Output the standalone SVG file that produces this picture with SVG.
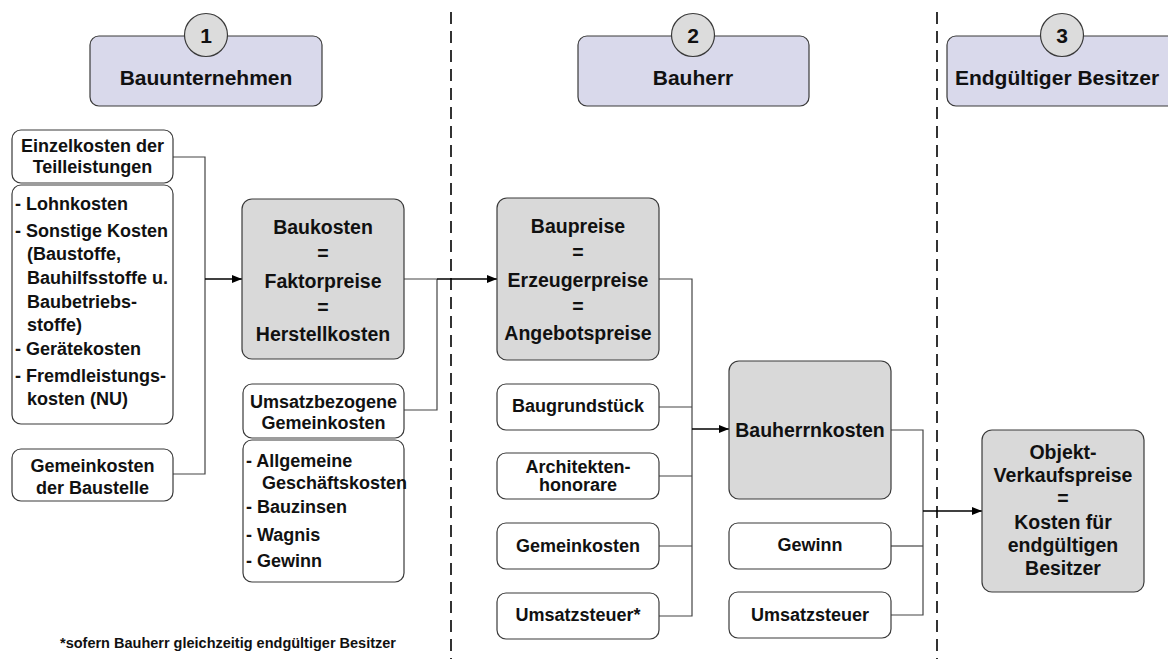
<svg xmlns="http://www.w3.org/2000/svg" width="1168" height="659" viewBox="0 0 1168 659">
  <style>
    text { font-family: "Liberation Sans", Arial, sans-serif; font-weight: bold; fill: #111; }
    .c { text-anchor: middle; }
    .hdr { fill: #d9d9eb; stroke: #3a3a3a; stroke-width: 1.2; }
    .num { fill: #dcdcdc; stroke: #3a3a3a; stroke-width: 1.2; }
    .big { fill: #d9d9d9; stroke: #3a3a3a; stroke-width: 1.2; }
    .box { fill: #ffffff; stroke: #3a3a3a; stroke-width: 1.2; }
    .t21 { font-size: 21px; }
    .t19 { font-size: 19.5px; }
    .t18 { font-size: 18px; }
    .line { fill: none; stroke: #444; stroke-width: 1.2; }
    .arrow { fill: none; stroke: #000; stroke-width: 1.4; marker-end: url(#tip); }
    .sep { stroke: #000; stroke-width: 1.6; stroke-dasharray: 12 7; }
  </style>
  <defs>
    <marker id="tip" markerWidth="10" markerHeight="8" refX="10" refY="4" orient="auto" markerUnits="userSpaceOnUse">
      <path d="M0,0 L10,4 L0,8 Z" fill="#000"/>
    </marker>
  </defs>

  <rect width="1168" height="659" fill="#ffffff"/>

  <!-- phase separators -->
  <g id="separators">
    <line class="sep" x1="451" y1="12" x2="451" y2="659"/>
    <line class="sep" x1="937" y1="12" x2="937" y2="659"/>
  </g>

  <!-- phase headers -->
  <g id="header-1">
    <rect class="hdr" x="90" y="36" width="232" height="70" rx="9"/>
    <circle class="num" cx="206" cy="35" r="21.5"/>
    <text class="c t21" x="206" y="43">1</text>
    <text class="c t21" x="206" y="85">Bauunternehmen</text>
  </g>
  <g id="header-2">
    <rect class="hdr" x="578" y="36" width="231" height="70" rx="9"/>
    <circle class="num" cx="693" cy="35" r="21.5"/>
    <text class="c t21" x="693" y="43">2</text>
    <text class="c t21" x="693" y="85">Bauherr</text>
  </g>
  <g id="header-3">
    <rect class="hdr" x="947" y="36" width="232" height="70" rx="9"/>
    <circle class="num" cx="1062" cy="35" r="21.5"/>
    <text class="c t21" x="1062" y="43">3</text>
    <text class="c t21" x="1057" y="85">Endgültiger Besitzer</text>
  </g>

  <!-- connectors -->
  <g id="connectors">
    <polyline class="line" points="173,157 205,157 205,474 173,474"/>
    <line class="arrow" x1="205" y1="279" x2="242" y2="279"/>
    <polyline class="line" points="404,279 437,279"/>
    <polyline class="line" points="404,410 437,410 437,279"/>
    <line class="arrow" x1="437" y1="279" x2="497" y2="279"/>
    <polyline class="line" points="659,279 692,279 692,616 659,616"/>
    <line class="line" x1="659" y1="407" x2="692" y2="407"/>
    <line class="line" x1="659" y1="476" x2="692" y2="476"/>
    <line class="line" x1="659" y1="546" x2="692" y2="546"/>
    <line class="arrow" x1="692" y1="429" x2="729" y2="429"/>
    <polyline class="line" points="891,430 923,430 923,615 891,615"/>
    <line class="line" x1="891" y1="546" x2="923" y2="546"/>
    <line class="arrow" x1="923" y1="511" x2="982" y2="511"/>
  </g>

  <!-- Bauunternehmen column -->
  <g id="einzelkosten">
    <rect class="box" x="12" y="130" width="161" height="53" rx="9"/>
    <text class="c t18" x="92.5" y="152">Einzelkosten der</text>
    <text class="c t18" x="92.5" y="173">Teilleistungen</text>
  </g>
  <g id="einzelkosten-liste">
    <rect class="box" x="12" y="185" width="161" height="239" rx="9"/>
    <text class="t18" x="15" y="210">- Lohnkosten</text>
    <text class="t18" x="15" y="237">- Sonstige Kosten</text>
    <text class="t18" x="27" y="260">(Baustoffe,</text>
    <text class="t18" x="27" y="284">Bauhilfsstoffe u.</text>
    <text class="t18" x="27" y="308">Baubetriebs-</text>
    <text class="t18" x="27" y="331">stoffe)</text>
    <text class="t18" x="15" y="355">- Gerätekosten</text>
    <text class="t18" x="15" y="382">- Fremdleistungs-</text>
    <text class="t18" x="27" y="405">kosten (NU)</text>
  </g>
  <g id="gemeinkosten-baustelle">
    <rect class="box" x="12" y="449" width="161" height="52" rx="9"/>
    <text class="c t18" x="92.5" y="472">Gemeinkosten</text>
    <text class="c t18" x="92.5" y="494">der Baustelle</text>
  </g>

  <g id="baukosten">
    <rect class="big" x="242" y="199" width="162" height="160" rx="10"/>
    <text class="c t19" x="323" y="234">Baukosten</text>
    <text class="c t19" x="323" y="260">=</text>
    <text class="c t19" x="323" y="288">Faktorpreise</text>
    <text class="c t19" x="323" y="314">=</text>
    <text class="c t19" x="323" y="341">Herstellkosten</text>
  </g>
  <g id="umsatzbezogene-gemeinkosten">
    <rect class="box" x="243" y="384" width="161" height="54" rx="9"/>
    <text class="c t18" x="323.5" y="408">Umsatzbezogene</text>
    <text class="c t18" x="323.5" y="429">Gemeinkosten</text>
  </g>
  <g id="gemeinkosten-liste">
    <rect class="box" x="243" y="440" width="161" height="142" rx="9"/>
    <text class="t18" x="246" y="467">- Allgemeine</text>
    <text class="t18" x="262" y="489">Geschäftskosten</text>
    <text class="t18" x="246" y="513">- Bauzinsen</text>
    <text class="t18" x="246" y="541">- Wagnis</text>
    <text class="t18" x="246" y="567">- Gewinn</text>
  </g>

  <!-- Bauherr column -->
  <g id="baupreise">
    <rect class="big" x="497" y="198" width="162" height="162" rx="10"/>
    <text class="c t19" x="578" y="233">Baupreise</text>
    <text class="c t19" x="578" y="259">=</text>
    <text class="c t19" x="578" y="287">Erzeugerpreise</text>
    <text class="c t19" x="578" y="313">=</text>
    <text class="c t19" x="578" y="340">Angebotspreise</text>
  </g>
  <g id="baugrundstueck">
    <rect class="box" x="497" y="384" width="162" height="46" rx="9"/>
    <text class="c t18" x="578" y="412">Baugrundstück</text>
  </g>
  <g id="architektenhonorare">
    <rect class="box" x="497" y="453" width="162" height="46" rx="9"/>
    <text class="c t18" x="578" y="473">Architekten-</text>
    <text class="c t18" x="578" y="491">honorare</text>
  </g>
  <g id="gemeinkosten">
    <rect class="box" x="497" y="523" width="162" height="46" rx="9"/>
    <text class="c t18" x="578" y="552">Gemeinkosten</text>
  </g>
  <g id="umsatzsteuer-bauherr">
    <rect class="box" x="497" y="593" width="162" height="46" rx="9"/>
    <text class="c t18" x="578" y="621">Umsatzsteuer*</text>
  </g>

  <g id="bauherrnkosten">
    <rect class="big" x="729" y="361" width="162" height="138" rx="10"/>
    <text class="c t19" x="810" y="437">Bauherrnkosten</text>
  </g>
  <g id="gewinn">
    <rect class="box" x="729" y="523" width="162" height="46" rx="9"/>
    <text class="c t18" x="810" y="551">Gewinn</text>
  </g>
  <g id="umsatzsteuer">
    <rect class="box" x="729" y="592" width="162" height="46" rx="9"/>
    <text class="c t18" x="810" y="621">Umsatzsteuer</text>
  </g>

  <!-- Endgültiger Besitzer column -->
  <g id="objekt-verkaufspreise">
    <rect class="big" x="982" y="430" width="162" height="162" rx="10"/>
    <text class="c t19" x="1063" y="459">Objekt-</text>
    <text class="c t19" x="1063" y="482">Verkaufspreise</text>
    <text class="c t19" x="1063" y="505">=</text>
    <text class="c t19" x="1063" y="529">Kosten für</text>
    <text class="c t19" x="1063" y="552">endgültigen</text>
    <text class="c t19" x="1063" y="575">Besitzer</text>
  </g>

  <text id="footnote" class="c" x="228" y="648" font-size="14.5">*sofern Bauherr gleichzeitig endgültiger Besitzer</text>
</svg>
